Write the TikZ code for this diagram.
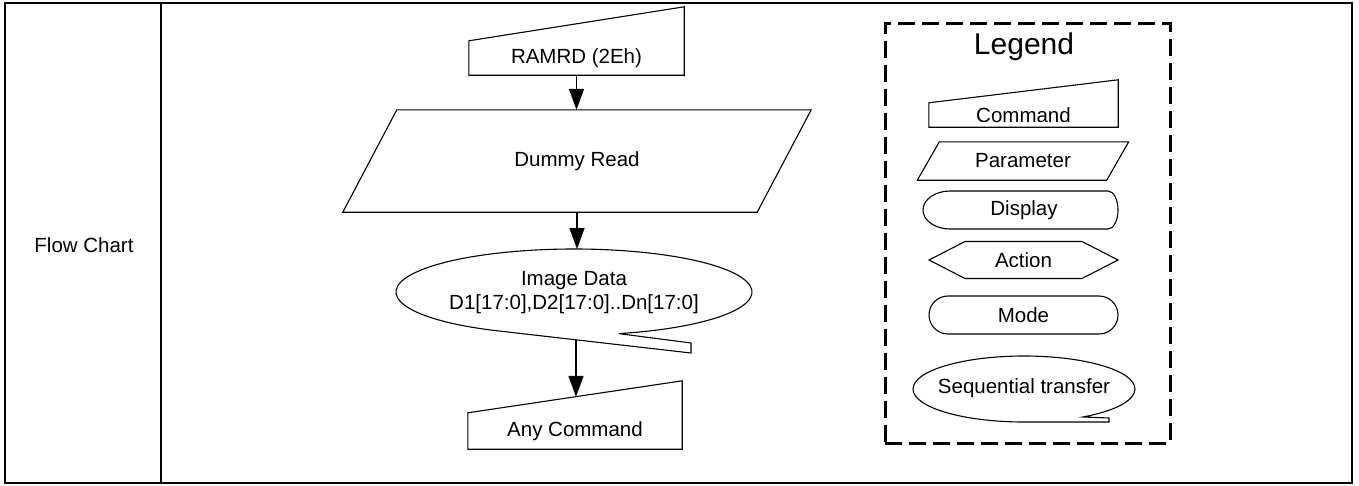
\documentclass[tikz,border=0pt]{standalone}
\usepackage{fontspec}
\setmainfont{Liberation Sans}
\usetikzlibrary{arrows.meta,calc}
\begin{document}
\begin{tikzpicture}[x=1pt,y=-1pt,
  shp/.style={draw=black,line width=1.1pt,line join=miter},
  txt/.style={font=\fontsize{20.5}{24}\selectfont, inner sep=0pt},
  flow/.style={line width=1.6pt,-{Triangle[width=15pt,length=21pt]}},
  frame/.style={line width=2pt},
]
\useasboundingbox (0,0) rectangle (1359,485);
% table frame
\draw[frame] (5,3) rectangle (1352,483);
\draw[frame] (161,3) -- (161,483);
\node[txt] (fc) at (84,245) {Flow Chart};

% RAMRD command
\node[txt, minimum width=215pt, minimum height=34pt] (ram) at (576.5,58) {RAMRD (2Eh)};
\draw[shp] (ram.south west) -- (ram.north west) -- ([yshift=34pt]ram.north east) -- (ram.south east) -- cycle;

% Dummy read parameter
\node[txt, minimum width=414pt, minimum height=102pt] (dum) at (577,161) {Dummy Read};
\draw[shp] ([xshift=-27pt]dum.south west) -- ([xshift=27pt]dum.north west) -- ([xshift=27pt]dum.north east) -- ([xshift=-27pt]dum.south east) -- cycle;

% Image data sequential transfer
\node[txt, align=center] (img) at (574,293) {Image Data\\D1[17:0],D2[17:0]..Dn[17:0]};
\begin{scope}[shift={(574,292)}]
  \draw[shp] (117,61) -- (115.5:178 and 43) arc[start angle=115.5, end angle=435.4, x radius=178, y radius=43] -- (117,51) -- cycle;
  \coordinate (imgin) at (3,-43);
  \coordinate (imgout) at (2,48);
\end{scope}

% Any Command
\node[txt, minimum width=214pt, minimum height=36pt] (any) at (575,431) {Any Command};
\draw[shp] (any.south west) -- (any.north west) -- ([yshift=32pt]any.north east) -- (any.south east) -- cycle;
\coordinate (anyin) at ($(any.north)+(0,-16)$);

% connectors
\draw[flow] (ram.south) -- (ram.south |- dum.north);
\draw[flow] (dum.south) -- (dum.south |- imgin);
\draw[flow] (imgout) -- (imgout |- anyin);

% Legend
\node[draw, line width=3pt, dash pattern=on 17pt off 7pt, minimum width=285pt, minimum height=420pt, inner sep=0pt] (leg) at (1027.5,233) {};
\node[font=\fontsize{30}{36}\selectfont, inner sep=0pt] (legt) at (1024,47) {Legend};

\node[txt, minimum width=189pt, minimum height=24pt] (lcmd) at (1023.5,115) {Command};
\draw[shp] (lcmd.south west) -- (lcmd.north west) -- ([yshift=23pt]lcmd.north east) -- (lcmd.south east) -- cycle;

\node[txt, minimum width=189pt, minimum height=38pt] (lpar) at (1023,161) {Parameter};
\draw[shp] ([xshift=-11pt]lpar.south west) -- ([xshift=11pt]lpar.north west) -- ([xshift=11pt]lpar.north east) -- ([xshift=-11pt]lpar.south east) -- cycle;

\node[txt] (ldis) at (1024,210) {Display};
\begin{scope}[shift={(1024,210)}]
  \draw[shp] (-74,-19) -- (84,-19) arc[start angle=-90, end angle=90, x radius=10, y radius=19] -- (-74,19) arc[start angle=90, end angle=270, x radius=27, y radius=19] -- cycle;
\end{scope}

\node[txt] (lact) at (1023.5,260) {Action};
\begin{scope}[shift={(1023.5,260)}]
  \draw[shp] (-94.5,0) -- (-58.5,-18.5) -- (58.5,-18.5) -- (94.5,0) -- (58.5,18.5) -- (-58.5,18.5) -- cycle;
\end{scope}

\node[shp, txt, rounded corners=19pt, minimum width=189pt, minimum height=38pt] (lmode) at (1023.5,315) {Mode};

\node[txt] (lseq) at (1024,388) {Sequential transfer};
\begin{scope}[shift={(1024,389)}]
  \draw[shp] (0,33) arc[start angle=90, end angle=417.9, x radius=111, y radius=33] -- (85,29) -- (85,33) -- cycle;
\end{scope}
\end{tikzpicture}
\end{document}
